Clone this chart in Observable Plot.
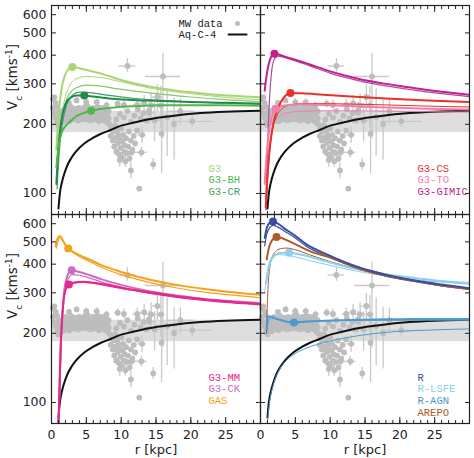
<!DOCTYPE html>
<html>
<head>
<meta charset="utf-8">
<script src="https://cdn.jsdelivr.net/npm/d3@7"></script>
<script src="https://cdn.jsdelivr.net/npm/@observablehq/plot@0.6"></script>
<style>
  body { margin: 0; background: #fff; }
  #chart { width: 474px; height: 458px; }
</style>
</head>
<body>
<div id="chart"></div>
<script>
// ---- axis ticks ----
const yTicks = [100, 200, 300, 400, 500, 600];
const xLabels = [0, 5, 10, 15, 20, 25];
const xMajor = [0, 5, 10, 15, 20, 25, 30];
const xMinor = d3.range(0, 31, 1);

// ---- Milky Way observational band (km/s) ----
const mwBand = [{lo: 184, hi: 228}];

// ---- Milky Way rotation data: [r kpc, Vc, r error, Vc error low, Vc error high] ----
const mwData = [
  [0.2,258,0,0,0],[0.2,236,0,0,0],[0.4,262,0,0,0],[0.4,224,0,0,0],[0.6,248,0,0,0],[0.6,214,0,0,0],
  [0.8,238,0,0,0],[0.8,205,0,0,0],[1.0,226,0,0,0],[1.0,198,0,0,0],[1.2,219,0,0,0],[1.2,206,0,0,0],
  [1.4,212,0,0,0],[1.4,228,0,0,0],[1.6,222,0,0,0],[1.6,204,0,0,0],[1.8,230,0,0,0],[1.8,212,0,0,0],
  [2.0,216,0,0,0],[2.0,236,0,0,0],[2.2,208,0,0,0],[2.2,224,0,0,0],[2.4,232,0,0,0],[2.4,214,0,0,0],
  [2.6,220,0,0,0],[2.6,206,0,0,0],[2.8,238,0,0,0],[2.8,226,0,0,0],[3.0,212,0,0,0],[3.0,230,0,0,0],
  [3.2,224,0,0,0],[3.2,210,0,0,0],[3.4,234,0,0,0],[3.4,218,0,0,0],[3.6,214,0,0,0],[3.6,228,0,0,0],
  [3.8,226,0,0,0],[3.8,208,0,0,0],[4.0,236,0,0,0],[4.0,218,0,0,0],[4.2,216,0,0,0],[4.2,230,0,0,0],
  [4.4,224,0,0,0],[4.4,210,0,0,0],[4.6,232,0,0,0],[4.6,220,0,0,0],[4.8,212,0,0,0],[4.8,238,0,0,0],
  [5.0,226,0,0,0],[5.0,216,0,0,0],[5.2,240,0,0,0],[5.2,210,0,0,0],[5.4,218,0,0,0],[5.4,230,0,0,0],
  [5.6,208,0,0,0],[5.6,224,0,0,0],[5.8,230,0,0,0],[5.8,214,0,0,0],[6.0,222,0,0,0],[6.0,236,0,0,0],
  [6.2,210,0,0,0],[6.2,226,0,0,0],[6.4,232,0,0,0],[6.4,216,0,0,0],[6.6,218,0,0,0],[6.6,238,0,0,0],
  [6.8,228,0,0,0],[6.8,206,0,0,0],[7.0,214,0,0,0],[7.0,234,0,0,0],[7.2,236,0,0,0],[7.2,220,0,0,0],
  [7.4,224,0,0,0],[7.4,210,0,0,0],[7.6,208,0,0,0],[7.6,230,0,0,0],[7.8,232,0,0,0],[7.8,218,0,0,0],
  [8.0,220,0,0,0],[8.0,204,0,0,0],[8.2,212,0,0,0],[8.2,228,0,0,0],
  // inner-halo dip
  [8.3,200,0,0,0],[8.5,178,0,0,0],[8.6,192,0,0,0],[8.8,170,0,0,0],[8.9,186,0,0,0],[9.0,160,0,0,0],
  [9.1,198,0,0,0],[9.2,175,0,0,0],[9.3,152,0,0,0],[9.4,188,0,0,0],[9.5,166,0,0,0],[9.6,180,0,0,0],
  [9.7,148,0,4,4],[9.8,172,0,0,0],[9.9,158,0,0,0],[10.0,192,0,0,0],[10.1,144,0,6,6],[10.2,168,0,0,0],
  [10.3,180,0,0,0],[10.4,152,0,0,0],[10.5,162,0,0,0],[10.6,138,0,8,8],[10.7,174,0,0,0],[10.8,150,0,0,0],
  [11.0,160,0,0,0],[11.1,186,0,0,0],[11.2,142,0,6,6],[11.4,170,0,0,0],[11.6,155,0,0,0],[11.8,178,0,0,0],
  [12.0,165,0,0,0],[12.3,188,0,0,0],
  [9.3,210,0,0,0],[9.8,222,0,0,0],[10.4,214,0,0,0],[10.9,228,0,0,0],[11.4,205,0,0,0],[11.9,218,0,0,0],
  [12.4,232,0,0,0],[12.8,212,0,0,0],[13.2,224,0,0,0],[13.6,208,0,0,0],[14.0,230,0,0,0],
  // outer tracers with errors
  [10.9,359,1.2,22,28],[16.0,323,2.5,150,85],[20.2,206,3.0,12,12],[11.5,151,0.8,6,6],
  [12.9,151,0.8,8,8],[11.4,126,0,10,10],[12.6,105,0,0,0],[14.6,134,0,8,8],[13.0,180,0.6,15,15],
  [12.3,243,0.6,15,15],[13.3,247,0.5,20,20],[14.3,242,0.8,30,30],[15.2,263,0.7,35,35],
  [15.7,242,0.6,50,50],[14.0,225,1.0,25,25],[14.8,208,1.2,40,40],[15.8,182,0,60,60],
  [16.6,215,1.6,70,70],[17.6,200,0,60,60],[18.5,228,2.0,30,30],[10.4,243,0.4,12,12],
  [9.5,246,0.4,10,10],[3.6,254,0.3,8,8],[5.0,250,0.4,8,8],[6.5,250,0.4,8,8],[7.9,242,0.4,8,8],
  [2.5,248,0.3,6,6],[9.8,140,0,10,10]
];

// ---- dark-matter-only reference halo ----
const aqC4 = [[1.0,86],[1.2,100],[1.5,112],[1.8,121],[2.3,133],[2.8,142],[3.5,152],[4.7,165],[6.0,175],[7.1,182],[8.5,189],[9.5,195],[12,204],[14.2,211],[17,217],[21.4,224],[25,227],[30,229]];

// ---- circular velocity curves, [r, Vc] ----
// top-left: G3 family
const g3Thick   = [[0.7,155],[1.0,215],[1.4,280],[1.9,325],[2.4,347],[3.0,355],[4.0,351],[5.5,342],[7.5,330],[10,312],[14,292],[18,280],[22,272],[26,266],[30,262]];
const g3Thin    = [[0.8,140],[1.2,190],[1.8,250],[2.5,290],[3.5,315],[5,323],[7,320],[10,306],[14,288],[20,272],[25,262],[30,256]];
const g3bhThick = [[0.7,130],[1.0,160],[1.5,185],[2.3,201],[3.0,210],[3.7,218],[4.6,224],[5.7,229],[7,233],[9,237],[12,240],[16,242],[20,242],[25,242],[30,241]];
const g3bhThin  = [[0.8,135],[1.2,180],[1.8,235],[2.5,270],[3.5,288],[5,296],[6.5,295],[9,287],[12,279],[16,270],[20,263],[25,256],[30,251]];
const g3crThick = [[0.7,110],[1.0,160],[1.5,215],[2.0,245],[2.8,262],[3.6,267],[4.7,267],[6,264],[8,260],[11,256],[15,253],[20,250],[25,248],[30,246]];
const g3crThin  = [[0.8,105],[1.1,150],[1.6,205],[2.2,245],[3,268],[4,276],[5.5,275],[8,268],[12,259],[18,252],[24,248],[30,245]];
// top-right: G3-CS, G3-TO, G3-GIMIC
const csThick   = [[0.75,87],[1.0,120],[1.4,165],[1.9,205],[2.5,235],[3.2,258],[4.3,274],[6,273],[9,269],[13,264],[18,259],[24,254],[30,250]];
const csThin    = [[0.8,85],[1.1,125],[1.5,170],[2,205],[3,232],[4,242],[6,246],[9,246],[13,245],[18,243],[24,240],[30,238]];
const toThick   = [[0.6,110],[0.9,150],[1.3,195],[1.8,225],[2.2,234],[3,240],[4,243],[6,244],[9,243],[13,240],[18,237],[24,234],[30,232]];
const toThin    = [[0.7,95],[1.0,135],[1.5,180],[2,205],[3,220],[4,225],[6,228],[9,229],[13,229],[18,228],[24,227],[30,226]];
const gimicThick= [[0.6,280],[0.9,330],[1.3,378],[1.7,400],[2.0,406],[2.6,403],[3.5,394],[5,382],[7,365],[10,340],[14,316],[18,300],[22,288],[26,277],[30,269]];
const gimicThin = [[0.8,85],[1.0,150],[1.3,260],[1.6,340],[2.0,385],[2.5,396],[3.5,390],[5,378],[7,360],[10,334],[14,310],[18,294],[22,282],[26,272],[30,264]];
// bottom-left: G3-MM, G3-CK, GAS
const gasThick  = [[0.6,478],[0.9,520],[1.2,530],[1.6,510],[2.0,485],[2.4,468],[3,455],[4,438],[5.5,418],[7,398],[10,370],[14,343],[18,325],[22,312],[26,302],[30,294]];
const gasThin   = [[0.7,470],[1.0,510],[1.3,520],[1.7,500],[2.2,475],[3,452],[4,432],[5.5,410],[7,390],[10,360],[14,333],[18,315],[22,302],[26,293],[30,286]];
const ckThick   = [[1.0,80],[1.3,170],[1.7,280],[2.2,350],[2.9,376],[4,370],[5.5,358],[7,345],[10,325],[14,305],[18,292],[22,282],[26,276],[30,271]];
const ckThin    = [[1.05,80],[1.4,190],[1.8,290],[2.3,340],[3,360],[4,358],[5.5,348],[7,336],[10,318],[14,300],[18,288],[22,279],[26,273],[30,268]];
const mmThick   = [[1.0,80],[1.3,170],[1.7,270],[2.1,315],[2.5,326],[3.2,333],[4.5,335],[6,332],[8,325],[11,312],[14,302],[18,290],[22,281],[26,274],[30,268]];
const mmThin    = [[1.05,80],[1.4,200],[1.8,290],[2.3,320],[3,330],[4.5,333],[6,330],[8,322],[11,310],[14,299],[18,287],[22,278],[26,271],[30,266]];
// bottom-right: R, R-LSFE, R-AGN, AREPO
const rThick    = [[0.6,520],[0.9,575],[1.3,605],[1.8,613],[2.5,600],[3.5,570],[4.8,537],[6.5,490],[9.6,440],[14.4,385],[18,360],[21.6,342],[26,326],[30,314]];
const rThin     = [[0.6,480],[0.9,540],[1.3,575],[1.8,590],[2.5,580],[3.5,555],[4.8,525],[6.5,480],[9.6,432],[14.4,380],[18,355],[21.6,338],[26,322],[30,311]];
const arepoThick= [[0.9,420],[1.2,470],[1.6,505],[2.0,520],[2.3,525],[3,520],[4,505],[5.5,480],[7.5,450],[9.6,432],[12,405],[14.4,380],[18,357],[21.6,340],[26,323],[30,312]];
const arepoThin = [[0.85,200],[1.0,280],[1.3,380],[1.7,430],[2.3,458],[3.0,468],[3.8,470],[5,462],[7,440],[10,410],[14.4,378],[18,355],[22,338],[26,323],[30,312]];
const lsfeThick = [[0.8,330],[1.2,390],[1.8,430],[2.5,445],[3.3,449],[4.1,448],[5,445],[6.5,435],[9,415],[12,392],[14.4,378],[18,362],[21.6,350],[26,338],[30,331]];
const lsfeThin  = [[0.6,300],[0.9,360],[1.3,410],[1.8,435],[2.5,440],[3.5,438],[5,430],[7,415],[10,395],[14,372],[18,355],[22,343],[26,334],[30,327]];
const agnThick  = [[0.9,210],[1.0,236],[1.5,237],[2,233],[3,228],[4,224],[4.8,223],[6,224],[8,226],[11,228],[14.4,229],[18,230],[22,231],[26,231],[30,231]];
const agnThin   = [[0.9,200],[1.2,230],[1.6,233],[2.2,231],[3,227],[4,225],[5,225],[7,226],[10,227],[14,228],[18,228],[22,228],[26,228],[30,228]];
const agnLow    = [[1.0,82],[1.3,100],[1.8,118],[2.5,135],[3.5,150],[4.8,162],[6.5,172],[9.6,184],[13,193],[16,199],[20,204],[25,207],[30,209]];

// ---- colours ----
const C = {
  g3: "#aad575", g3bh: "#4fb84c", g3bhLight: "#86c96a", g3cr: "#24894a", g3crLight: "#3f9f62",
  cs: "#e8322c", to: "#f27dab", gimic: "#c41f8d", gimicLight: "#b04aa8",
  mm: "#e5288a", ck: "#cc6cc0", gas: "#f5a21c",
  r: "#3a4f9f", lsfe: "#8ccfee", agn: "#4b9bd0", arepo: "#ad5a2a"
};

// ---- series: panel (column/row), colour, width ----
const series = [
  ["L","T",C.g3bhLight,1.2,g3bhThin],["L","T",C.g3,1.0,g3Thin],["L","T",C.g3crLight,1.2,g3crThin],
  ["L","T",C.g3,2.0,g3Thick],["L","T",C.g3cr,2.0,g3crThick],["L","T",C.g3bh,2.0,g3bhThick],
  ["R","T",C.to,1.0,toThin],["R","T",C.cs,1.0,csThin],["R","T",C.gimicLight,1.2,gimicThin],
  ["R","T",C.to,2.0,toThick],["R","T",C.cs,2.0,csThick],["R","T",C.gimic,2.0,gimicThick],
  ["L","B",C.gas,1.2,gasThin],["L","B",C.ck,1.2,ckThin],["L","B",C.mm,1.2,mmThin],
  ["L","B",C.gas,2.0,gasThick],["L","B",C.ck,2.0,ckThick],["L","B",C.mm,2.0,mmThick],
  ["R","B",C.agn,1.0,agnLow],["R","B",C.agn,1.0,agnThin],["R","B",C.lsfe,1.0,lsfeThin],
  ["R","B",C.arepo,1.0,arepoThin],["R","B",C.r,1.2,rThin],
  ["R","B",C.lsfe,2.0,lsfeThick],["R","B",C.arepo,2.0,arepoThick],["R","B",C.r,2.0,rThick],
  ["R","B",C.agn,2.0,agnThick]
];

// ---- marker on each thick curve: [col, row, colour, r, Vc] ----
const markers = [
  ["L","T",C.g3,3.0,355],["L","T",C.g3cr,4.7,267],["L","T",C.g3bh,5.7,229],
  ["R","T",C.gimic,2.0,406],["R","T",C.cs,4.3,274],["R","T",C.to,2.2,234],
  ["L","B",C.gas,2.4,468],["L","B",C.ck,2.9,376],["L","B",C.mm,2.5,326],
  ["R","B",C.r,1.8,613],["R","B",C.arepo,2.3,525],["R","B",C.lsfe,4.1,448],["R","B",C.agn,4.8,223]
];

// ---- per-panel legends ----
const legends = [
  ["L","T",0,"G3",C.g3],["L","T",1,"G3-BH",C.g3bh],["L","T",2,"G3-CR",C.g3crLight],
  ["R","T",0,"G3-CS",C.cs],["R","T",1,"G3-TO",C.to],["R","T",2,"G3-GIMIC",C.gimic],
  ["L","B",0,"G3-MM",C.mm],["L","B",1,"G3-CK",C.ck],["L","B",2,"GAS",C.gas],
  ["R","B",0,"R",C.r],["R","B",1,"R-LSFE",C.lsfe],["R","B",2,"R-AGN",C.agn],["R","B",3,"AREPO",C.arepo]
];

// ---- tables for the marks ----
const mw = mwData.map(([r, v, dr, lo, hi]) => ({r, v, r0: r - dr, r1: r + dr, v0: v - lo, v1: v + hi, dr, dv: lo + hi}));
const aq = aqC4.map(([r, v]) => ({r, v}));
const mono = "'Liberation Mono', 'DejaVu Sans Mono', monospace";

const lineMarks = series.map(([fx, fy, color, w, pts]) =>
  Plot.line(pts.map(([r, v]) => ({r, v, fx, fy})), {
    x: "r", y: "v", fx: "fx", fy: "fy", stroke: color, strokeWidth: w,
    curve: "monotone-x", clip: true
  })
);

const markerRows = markers.map(([fx, fy, color, r, v]) => ({fx, fy, color, r, v}));
const legendRows = legends.map(([fx, fy, i, label, color]) => ({fx, fy, i, label, color}));
const legendMarks = [0, 1, 2, 3].map(i =>
  Plot.text(legendRows.filter(d => d.i === i), {
    fx: "fx", fy: "fy", text: "label", fill: "color", frameAnchor: "top-left", lineAnchor: "middle",
    textAnchor: "start", dx: 157, dy: 163 + i * 11.6, fontFamily: mono, fontSize: 10.5
  })
);

const mwKey = [{fx: "L", fy: "T", label: "MW data"}];
const aqKey = [{fx: "L", fy: "T", label: "Aq-C-4"}];
const flatLine = {draw(context, l) { context.moveTo(0, 0); context.lineTo(0, -l); }};

const yTitle = [{fx: "L", fy: "T"}, {fx: "L", fy: "B"}];
const xTitle = [{fx: "L", fy: "B"}, {fx: "R", fy: "B"}];

const chart = Plot.plot({
  width: 474, height: 458,
  marginLeft: 51, marginRight: 5, marginTop: 5, marginBottom: 35,
  x: {domain: [0, 30]},
  y: {type: "log", domain: [81, 658]},
  fx: {domain: ["L", "R"], padding: 0, axis: null},
  fy: {domain: ["T", "B"], padding: 0, axis: null},
  style: {fontFamily: "'DejaVu Sans', sans-serif", fontSize: "12px", background: "#fff", color: "#222"},
  marks: [
    Plot.rect(mwBand, {y1: "lo", y2: "hi", fill: "#dedede"}),
    Plot.ruleY(mw.filter(d => d.dr > 0), {y: "v", x1: "r0", x2: "r1", stroke: "#c9c9c9", strokeWidth: 1.3, clip: true}),
    Plot.ruleX(mw.filter(d => d.dv > 0), {x: "r", y1: "v0", y2: "v1", stroke: "#c9c9c9", strokeWidth: 1.3, clip: true}),
    Plot.dot(mw, {x: "r", y: "v", r: 2.9, fill: "#bdbdbd"}),
    Plot.line(aq, {x: "r", y: "v", stroke: "#111", strokeWidth: 2, curve: "monotone-x", clip: true}),
    ...lineMarks,
    Plot.dot(markerRows, {x: "r", y: "v", fx: "fx", fy: "fy", fill: "color", r: 4}),
    Plot.frame({stroke: "#222", strokeWidth: 1.2}),
    // inward ticks on every panel edge
    Plot.axisY(yTicks, {anchor: "left", tickSize: -5, fill: "none", label: null, facetAnchor: null}),
    Plot.axisY(yTicks, {anchor: "right", tickSize: -5, fill: "none", label: null, facetAnchor: null}),
    Plot.axisX(xMinor, {anchor: "bottom", tickSize: -3, fill: "none", label: null, facetAnchor: null}),
    Plot.axisX(xMajor, {anchor: "bottom", tickSize: -6, fill: "none", label: null, facetAnchor: null}),
    Plot.axisX(xMinor, {anchor: "top", tickSize: -3, fill: "none", label: null, facetAnchor: null}),
    Plot.axisX(xMajor, {anchor: "top", tickSize: -6, fill: "none", label: null, facetAnchor: null}),
    // tick labels
    Plot.axisY(yTicks, {anchor: "left", tickSize: 0, tickPadding: 5, stroke: "none", label: null, tickFormat: d => String(d), fontSize: 12.5}),
    Plot.axisX(xLabels, {anchor: "bottom", tickSize: 0, tickPadding: 7, stroke: "none", label: null, tickFormat: d => String(d), fontSize: 12.5}),
    // axis titles
    Plot.text(yTitle, {fx: "fx", fy: "fy", text: () => "Vc [kms-1]", frameAnchor: "left", lineAnchor: "middle", rotate: -90, dx: -39, fontSize: 13.5}),
    Plot.text(xTitle, {fx: "fx", fy: "fy", text: () => "r [kpc]", frameAnchor: "bottom", lineAnchor: "middle", dy: 26, fontSize: 13}),
    // data key
    Plot.text(mwKey, {fx: "fx", fy: "fy", text: "label", frameAnchor: "top-left", lineAnchor: "middle", textAnchor: "start", dx: 127, dy: 18, fontFamily: mono, fontSize: 10.5, fill: "#222"}),
    Plot.text(aqKey, {fx: "fx", fy: "fy", text: "label", frameAnchor: "top-left", lineAnchor: "middle", textAnchor: "start", dx: 127, dy: 29, fontFamily: mono, fontSize: 10.5, fill: "#222"}),
    Plot.dot(mwKey, {fx: "fx", fy: "fy", frameAnchor: "top-left", dx: 186, dy: 18, r: 2.5, fill: "#bdbdbd"}),
    Plot.vector(aqKey, {fx: "fx", fy: "fy", frameAnchor: "top-left", dx: 177, dy: 29, length: 18, rotate: 90, anchor: "start", shape: flatLine, stroke: "#111", strokeWidth: 2}),
    ...legendMarks
  ]
});

document.getElementById("chart").append(chart);

// subscript / superscript in the velocity axis title
d3.select(chart).selectAll("text").filter(function () { return this.textContent === "Vc [kms-1]"; })
  .each(function () {
    const t = d3.select(this);
    t.text(null);
    t.append("tspan").text("V");
    t.append("tspan").attr("baseline-shift", "sub").attr("font-size", "9px").text("c");
    t.append("tspan").text(" [kms");
    t.append("tspan").attr("baseline-shift", "super").attr("font-size", "9px").text("-1");
    t.append("tspan").text("]");
  });
</script>
</body>
</html>
